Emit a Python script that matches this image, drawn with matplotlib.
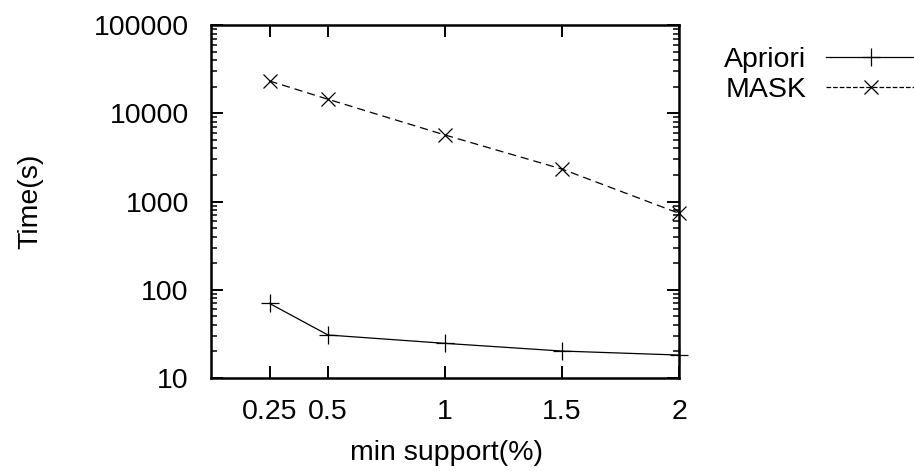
import matplotlib
matplotlib.use("Agg")
import matplotlib.pyplot as plt
from matplotlib.lines import Line2D
from matplotlib.ticker import LogLocator, NullFormatter

plt.rcParams['font.family'] = ['Liberation Sans', 'DejaVu Sans']

support = [0.25, 0.5, 1, 1.5, 2]
apriori = [70, 30.7, 24.7, 20.2, 18.2]
mask = [23200, 14400, 5670, 2330, 735]
xtick_labels = ["0.25", "0.5", "1", "1.5", "2"]
ytick_vals = [10, 100, 1000, 10000, 100000]
ytick_labels = ["10", "100", "1000", "10000", "100000"]

FS = 20.5
W, H = 914, 471
AX_L, AX_R, AX_T, AX_B = 211, 679, 25, 378
fig = plt.figure(figsize=(W / 100, H / 100), dpi=100)
ax = fig.add_axes([AX_L / W, 1 - AX_B / H, (AX_R - AX_L) / W, (AX_B - AX_T) / H])

dash = (0, (6.5, 4))
ax.plot(support, apriori, color='black', lw=0.9, ls='-', marker='+',
        markersize=12.5, markeredgewidth=0.9, clip_on=False, label='Apriori')
ax.plot(support, mask, color='black', lw=0.9, ls=dash, marker='x',
        markersize=10, markeredgewidth=0.9, clip_on=False, label='MASK')

ax.set_yscale('log')
ax.set_xlim(0, 2)
ax.set_ylim(10, 100000)
ax.set_xticks(support)
ax.set_xticklabels(xtick_labels)
ax.set_yticks(ytick_vals)
ax.set_yticklabels(ytick_labels)
ax.yaxis.set_minor_locator(LogLocator(base=10, subs=range(2, 10), numticks=20))
ax.yaxis.set_minor_formatter(NullFormatter())

ax.tick_params(axis='both', which='major', direction='in', length=8.5, width=1.4,
               top=True, right=True, labelsize=FS)
ax.tick_params(axis='y', which='major', pad=16)
ax.tick_params(axis='x', which='major', pad=15)
ax.tick_params(axis='y', which='minor', direction='in', length=4.2, width=1.1,
               left=True, right=True)
for s in ax.spines.values():
    s.set_linewidth(1.8)

axw, axh = AX_R - AX_L, AX_B - AX_T
ax.set_xlabel('min support(%)', fontsize=FS)
ax.xaxis.set_label_coords((446 - AX_L) / axw, (AX_B - 440) / axh)
ax.set_ylabel('Time(s)', fontsize=FS)
ax.yaxis.set_label_coords((43 - AX_L) / axw, 0.5)

# legend (outside, right)
handles, labels = ax.get_legend_handles_labels()
ys = [57, 87]
for h, lab, y in zip(handles, labels, ys):
    fy = 1 - y / H
    fig.text(806 / W, fy, lab, ha='right', va='center_baseline', fontsize=FS)
    ln = Line2D([826 / W, 914 / W], [fy, fy], transform=fig.transFigure,
                color=h.get_color(), lw=h.get_linewidth(), ls=h.get_linestyle())
    fig.add_artist(ln)
    mk = Line2D([871 / W], [fy], transform=fig.transFigure, color='black',
                marker=h.get_marker(), markersize=h.get_markersize(),
                markeredgewidth=h.get_markeredgewidth(), ls='none')
    fig.add_artist(mk)

fig.savefig('out.png', dpi=100)
